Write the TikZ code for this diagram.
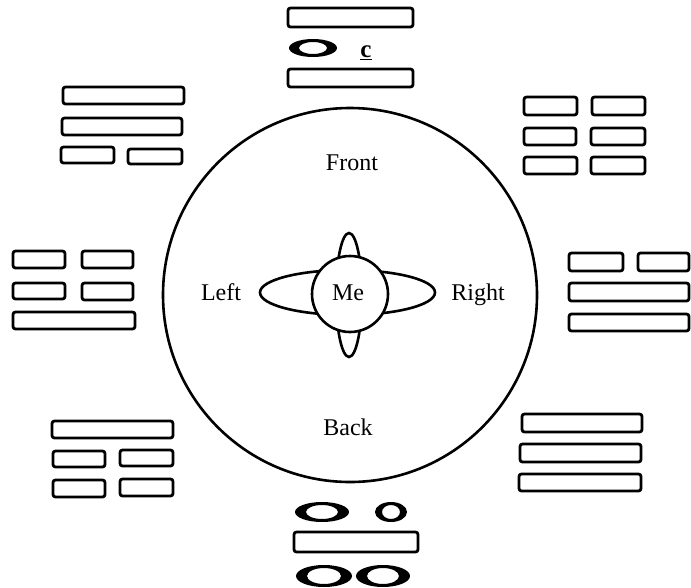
\documentclass[tikz,border=0pt]{standalone}
\usepackage{fontspec}
\setmainfont{Liberation Serif}
\usetikzlibrary{positioning}

\tikzset{
  bar/.style={line width=2.8pt,rounded corners=2.5pt},
  ring/.style={line width=2.6pt},
  label/.style={inner sep=0pt,text height=1.45ex,text depth=0.45ex,
    font=\fontsize{24}{28}\selectfont}
}
% bold letter O as a black ring: centre, x radius, y radius, side stroke
\newcommand\ringO[5]{\fill[even odd rule] (#1,#2) ellipse [x radius=#3,y radius=#4]
  (#1,#2) ellipse [x radius=#3-#5,y radius=#4-3];}

\begin{document}
\begin{tikzpicture}[x=1pt,y=-1pt]
\useasboundingbox (0,0) rectangle (691,587);
% top
\draw[bar] (288,8) rectangle (413,27);
\ringO{313}{48}{24}{9}{10}
\node[label,font=\fontsize{25}{28}\selectfont\bfseries] (c) at (366,55) {\underline{c}};
\draw[bar] (288,69) rectangle (413,87);
% top left
\draw[bar] (63,87) rectangle (184,104);
\draw[bar] (62,118) rectangle (182,135);
\draw[bar] (61,147) rectangle (114,163);
\draw[bar] (128,149) rectangle (182,164);
% left
\draw[bar] (13,251) rectangle (65,268);
\draw[bar] (82,251) rectangle (133,268);
\draw[bar] (13,283) rectangle (65,299);
\draw[bar] (82,283) rectangle (133,300);
\draw[bar] (13,312) rectangle (135,329);
% bottom left
\draw[bar] (52,421) rectangle (173,438);
\draw[bar] (53,451) rectangle (105,467);
\draw[bar] (120,450) rectangle (173,466);
\draw[bar] (53,480) rectangle (105,497);
\draw[bar] (120,479) rectangle (173,496);
% top right
\draw[bar] (524,97) rectangle (577,115);
\draw[bar] (592,97) rectangle (645,115);
\draw[bar] (524,128) rectangle (576,145);
\draw[bar] (591,128) rectangle (645,145);
\draw[bar] (524,157) rectangle (577,174);
\draw[bar] (591,157) rectangle (645,174);
% right
\draw[bar] (569,253) rectangle (623,271);
\draw[bar] (638,253) rectangle (689,271);
\draw[bar] (569,283) rectangle (689,301);
\draw[bar] (569,314) rectangle (689,331);
% bottom right
\draw[bar] (522,414) rectangle (642,432);
\draw[bar] (520,444) rectangle (641,462);
\draw[bar] (519,474) rectangle (641,491);
% bottom
\ringO{322}{512}{27}{10}{11}
\ringO{391}{512}{16}{10}{7}
\draw[bar] (294,532) rectangle (418,552);
\ringO{324}{576}{28}{11}{11}
\ringO{383}{576}{27}{11}{11}
% the circle with me in the middle
\draw[ring] (350,295) circle [radius=187];
\draw[ring] (347.5,292.5) ellipse [x radius=87.5,y radius=22.5];
\draw[ring] (349,295) ellipse [x radius=13,y radius=62];
\draw[ring,fill=white] (350,294) circle [radius=38];
\node[label] (me) at (348,298) {Me};
\node[label] (front) at (352,168) {Front};
\node[label] (back) at (348,433) {Back};
\node[label] (left) at (221,298) {Left};
\node[label] (right) at (478,298) {Right};
\end{tikzpicture}
\end{document}
